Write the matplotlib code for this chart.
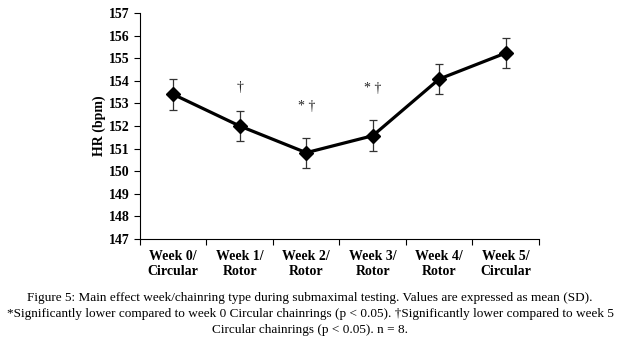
import matplotlib
matplotlib.use("Agg")
import matplotlib.pyplot as plt

# Dane
categories = ["Week 0/\nCircular", "Week 1/\nRotor", "Week 2/\nRotor",
              "Week 3/\nRotor", "Week 4/\nRotor", "Week 5/\nCircular"]
hr_mean = [153.4, 152.0, 150.82, 151.57, 154.08, 155.23]
hr_sd = [0.67, 0.68, 0.67, 0.68, 0.68, 0.67]
marks = ["", "\u2020", "* \u2020", "* \u2020", "", ""]
mark_y = [None, 153.7, 152.85, 153.68, None, None]

caption = ("Figure 5: Main effect week/chainring type during submaximal testing. Values are expressed as mean (SD).\n"
           "*Significantly lower compared to week 0 Circular chainrings (p < 0.05). \u2020Significantly lower compared to week 5\n"
           "Circular chainrings (p < 0.05). n = 8.")

plt.rcParams['font.family'] = ['Liberation Serif', 'DejaVu Serif']

fig = plt.figure(figsize=(6.2, 3.52), dpi=100)
ax = fig.add_axes([0.2258, 0.321, 0.6435, 0.642])

x = list(range(len(categories)))
ax.errorbar(x, hr_mean, yerr=hr_sd, color='black', linewidth=2.3,
            marker='D', markersize=7.5, elinewidth=0.9, ecolor='#333333',
            capsize=3, capthick=0.9)

for xi, m, my in zip(x, marks, mark_y):
    if m:
        ax.text(xi, my, m, ha='center', va='center', fontsize=10, color='#222222')

ax.set_xlim(-0.5, 5.5)
ax.set_ylim(147, 157)
ax.set_yticks(range(147, 158))
ax.set_xticks([i - 0.5 for i in range(7)])
ax.set_xticklabels([])
ax.set_xticks(x, minor=True)
ax.set_xticklabels(categories, minor=True, fontweight='bold', fontsize=10)
ax.tick_params(axis='x', which='minor', length=0, pad=8)
ax.tick_params(axis='x', which='major', length=4, width=0.8)
ax.tick_params(axis='y', length=4, width=0.8, labelsize=10)
for lab in ax.get_yticklabels():
    lab.set_fontweight('bold')
ax.set_ylabel("HR (bpm)", fontweight='bold', fontsize=10, labelpad=2)

for s in ['top', 'right']:
    ax.spines[s].set_visible(False)
for s in ['left', 'bottom']:
    ax.spines[s].set_linewidth(0.8)

fig.text(0.5, 0.108, caption, ha='center', va='center', fontsize=9.5,
         linespacing=1.42)

fig.savefig("out.png", dpi=100)
